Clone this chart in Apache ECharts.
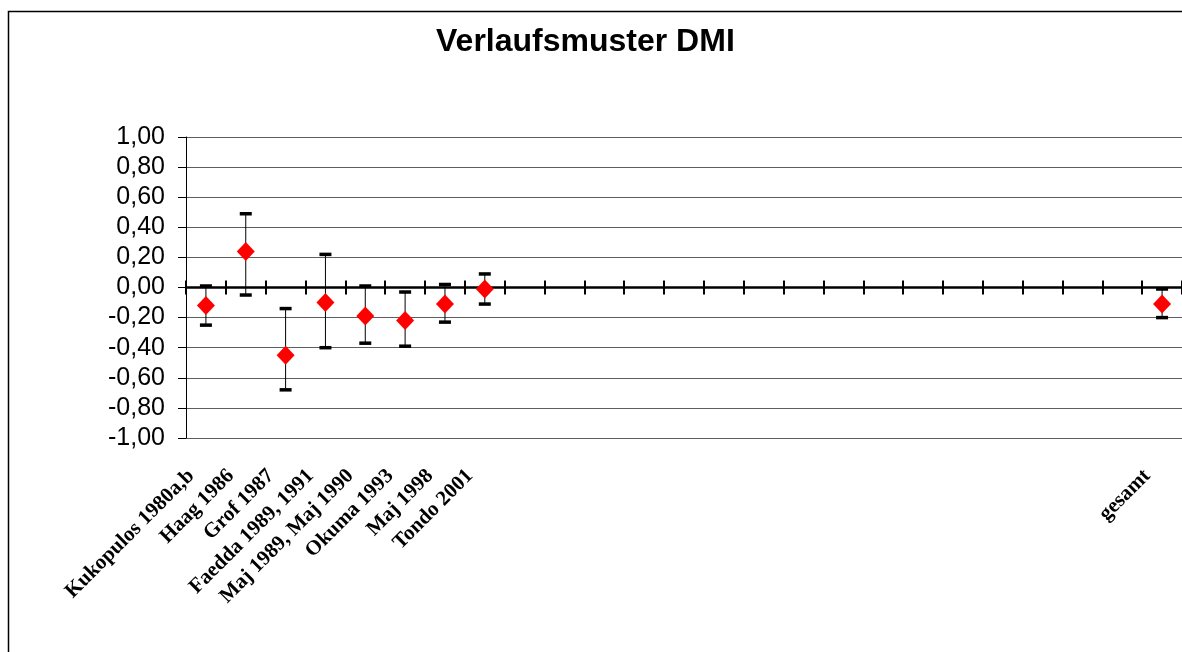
<!DOCTYPE html>
<html>
<head>
<meta charset="utf-8">
<title>Verlaufsmuster DMI</title>
<script src="https://cdn.jsdelivr.net/npm/echarts@6/dist/echarts.min.js"></script>
<style>
  html, body { margin: 0; padding: 0; background: #fff; }
  #main { width: 1182px; height: 652px; }
</style>
</head>
<body>
<div id="main"></div>
<script>
// Kategorien (16 leere Plätze zwischen Tondo 2001 und gesamt)
var categories = [
  'Kukopulos 1980a,b', 'Haag 1986', 'Grof 1987', 'Faedda 1989, 1991',
  'Maj 1989, Maj 1990', 'Okuma 1993', 'Maj 1998', 'Tondo 2001',
  '', '', '', '', '', '', '', '', '', '', '', '', '', '', '', '',
  'gesamt'
];
var N = null;
// Mittelwert, obere und untere Fehlergrenze
var means = [-0.12, 0.24, -0.45, -0.10, -0.19, -0.22, -0.11, -0.01,
  N, N, N, N, N, N, N, N, N, N, N, N, N, N, N, N, -0.11];
var upper = [0.01, 0.49, -0.14, 0.22, 0.01, -0.03, 0.02, 0.09,
  N, N, N, N, N, N, N, N, N, N, N, N, N, N, N, N, -0.01];
var lower = [-0.25, -0.05, -0.68, -0.40, -0.37, -0.39, -0.23, -0.11,
  N, N, N, N, N, N, N, N, N, N, N, N, N, N, N, N, -0.20];
var yTicks = { min: -1, max: 1, interval: 0.2 };

var pointData = [];
var errData = [];
for (var i = 0; i < categories.length; i++) {
  if (means[i] === null) continue;
  pointData.push([i, means[i]]);
  errData.push([i, lower[i], upper[i]]);
}

var chart = echarts.init(document.getElementById('main'));

var option = {
  animation: false,
  backgroundColor: '#fff',
  title: {
    text: 'Verlaufsmuster DMI',
    left: 431,
    top: 21,
    textStyle: { fontFamily: 'Liberation Sans, Arial, sans-serif', fontSize: 32, fontWeight: 'bold', color: '#000' }
  },
  graphic: [{
    type: 'rect',
    silent: true,
    z: -1,
    shape: { x: 8.5, y: 11.5, width: 1400, height: 900 },
    style: { fill: 'none', stroke: '#000', lineWidth: 1.5 }
  }],
  grid: { left: 186, right: -2, top: 137, bottom: 214 },
  xAxis: [
    {
      // Beschriftung unten
      type: 'category',
      data: categories,
      position: 'bottom',
      axisLine: { show: false, onZero: false },
      axisTick: { show: false },
      splitLine: { show: false },
      axisLabel: {
        interval: 0,
        rotate: 45,
        margin: 20,
        padding: [0, 21, 0, 0],
        fontFamily: 'Liberation Serif, Times New Roman, serif',
        fontWeight: 'bold',
        fontSize: 21,
        color: '#000'
      }
    },
    {
      // Nulllinie, Striche nach unten
      type: 'category',
      data: categories,
      position: 'bottom',
      axisLine: { show: true, onZero: true, onZeroAxisIndex: 0, lineStyle: { color: '#000', width: 2.5 } },
      axisTick: { show: true, interval: 0, length: 7, lineStyle: { color: '#000', width: 2 } },
      axisLabel: { show: false, interval: 0 },
      splitLine: { show: false }
    },
    {
      // Nulllinie, Striche nach oben
      type: 'category',
      data: categories,
      position: 'top',
      axisLine: { show: false, onZero: true, onZeroAxisIndex: 1 },
      axisTick: { show: true, interval: 0, length: 7, lineStyle: { color: '#000', width: 2 } },
      axisLabel: { show: false, interval: 0 },
      splitLine: { show: false }
    }
  ],
  yAxis: [
    {
      type: 'value',
      min: yTicks.min,
      max: yTicks.max,
      interval: yTicks.interval,
      axisLine: { show: true, lineStyle: { color: '#000', width: 1 } },
      axisTick: { show: true, length: 8, lineStyle: { color: '#000', width: 1 } },
      splitLine: { show: true, lineStyle: { color: '#5e5e5e', width: 1 } },
      axisLabel: {
        margin: 21,
        fontFamily: 'Liberation Sans, Arial, sans-serif',
        fontSize: 25,
        color: '#000',
        formatter: function (v) { return v.toFixed(2).replace('.', ','); }
      }
    },
    {
      type: 'value',
      show: false,
      min: yTicks.min,
      max: yTicks.max,
      interval: yTicks.interval,
      splitLine: { show: false }
    }
  ],
  series: [
    {
      type: 'custom',
      xAxisIndex: 0,
      yAxisIndex: 0,
      z: 3,
      data: errData,
      renderItem: function (params, api) {
        var x = api.value(0);
        var top = api.coord([x, api.value(2)]);
        var bot = api.coord([x, api.value(1)]);
        var cw = 6;
        return {
          type: 'group',
          children: [
            { type: 'line', shape: { x1: top[0], y1: top[1], x2: bot[0], y2: bot[1] }, style: { stroke: '#000', lineWidth: 1 } },
            { type: 'line', shape: { x1: top[0] - cw, y1: top[1], x2: top[0] + cw, y2: top[1] }, style: { stroke: '#000', lineWidth: 3.5 } },
            { type: 'line', shape: { x1: bot[0] - cw, y1: bot[1], x2: bot[0] + cw, y2: bot[1] }, style: { stroke: '#000', lineWidth: 3.5 } }
          ]
        };
      }
    },
    {
      type: 'scatter',
      xAxisIndex: 0,
      yAxisIndex: 0,
      z: 5,
      symbol: 'diamond',
      symbolSize: [18, 19],
      itemStyle: { color: '#ff0000', opacity: 1 },
      data: pointData
    }
  ]
};

chart.setOption(option);
</script>
</body>
</html>
